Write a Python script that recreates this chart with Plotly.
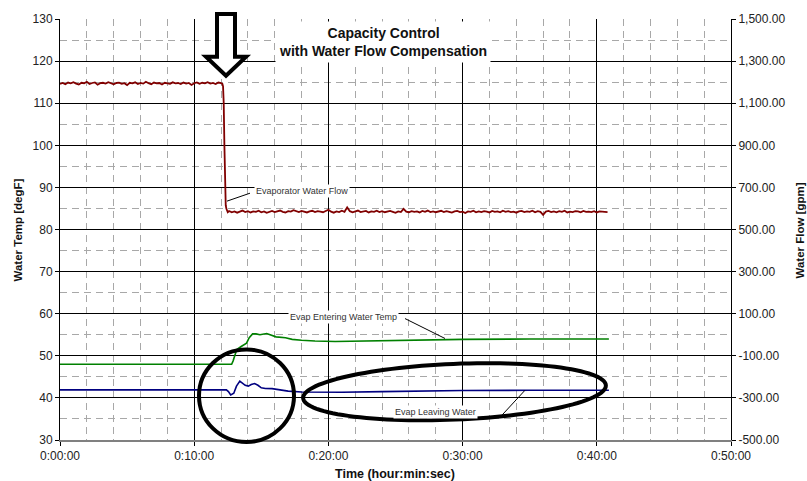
import numpy as np
import plotly.graph_objects as go

# ---------------- data ----------------
# Evaporator water flow [gpm], sampled every 0.2 min before the step
flow_pre = [1192,1196,1190,1198,1194,1200,1193,1189,1197,1195,1202,1191,1196,1199,1188,1195,
            1197,1193,1200,1194,1190,1196,1198,1192,1195,1186,1197,1194,1199,1191,1196,1193,
            1202,1195,1190,1198,1194,1196,1189,1197,1195,1192,1199,1194,1196,1191,1198,1193,
            1196,1187,1195,1199,1192,1197,1194,1200,1193,1196,1191,1198,1195]
# transition (time [min], flow)
flow_step_t = [12.1, 12.15, 12.2, 12.25, 12.3, 12.35, 12.4, 12.5]
flow_step_v = [1192, 1180, 1100, 900, 680, 615, 598, 582]
# after the step, every 0.2 min starting 12.6 min
flow_post = [588,582,586,580,585,590,583,587,581,586,
             584,589,582,586,579,585,588,583,586,590,
             584,581,587,585,592,586,583,588,584,581,
             586,589,583,587,585,582,588,594,585,580,
             586,583,589,584,605,587,582,586,590,583,
             585,588,581,586,584,589,583,587,582,585,
             588,584,579,586,583,598,585,582,587,584,
             586,581,588,584,590,583,586,582,585,589,
             583,587,584,580,586,588,583,585,578,586,
             584,589,582,586,583,587,585,581,588,584,
             586,582,589,584,587,583,585,580,586,588,
             583,586,584,589,582,587,584,570,585,588,
             583,586,582,587,584,589,581,585,583,587,
             586,582,588,584,585,583,587,581,586,584,
             585,583]

# Evap entering water temp [degF]
ent_t = [0, 12.79, 12.9, 13.05, 13.17, 13.5, 13.9, 14.1, 14.35, 14.6, 14.9, 15.4, 15.8,
         16.1, 16.8, 17.3, 18.0, 19.0, 20.5, 23.8, 30.0, 35.0, 40.9]
ent_v = [48.0, 48.0, 48.8, 50.5, 51.5, 52.2, 53.0, 54.3, 55.2, 55.2, 55.0, 55.3, 54.9,
         54.5, 54.3, 53.9, 53.7, 53.5, 53.4, 53.6, 53.9, 54.0, 54.0]

# Evap leaving water temp [degF]
lev_t = [0, 12.4, 12.55, 12.72, 12.95, 13.15, 13.4, 13.6, 13.8, 14.03, 14.25, 14.5, 14.75,
         15.0, 15.3, 15.8, 16.3, 17.0, 18.0, 19.5, 21.0, 24.0, 27.0, 30.0, 35.0, 40.9]
lev_v = [41.9, 41.9, 41.5, 40.7, 41.1, 42.8, 44.0, 43.6, 43.0, 42.8, 43.2, 43.4, 43.0,
         42.4, 42.25, 42.2, 41.9, 41.6, 41.4, 41.3, 41.35, 41.5, 41.65, 41.75, 41.8, 41.8]

x_tickvals = [0, 10, 20, 30, 40, 50]
x_ticktext = ["0:00:00", "0:10:00", "0:20:00", "0:30:00", "0:40:00", "0:50:00"]
y2_tickvals = [1500, 1300, 1100, 900, 700, 500, 300, 100, -100, -300, -500]
y2_ticktext = ["1,500.00", "1,300.00", "1,100.00", "900.00", "700.00", "500.00",
               "300.00", "100.00", "-100.00", "-300.00", "-500.00"]

# ---------------- build ----------------
flow_t = [round(0.2 * i, 2) for i in range(len(flow_pre))] + flow_step_t + \
         [round(12.6 + 0.2 * i, 2) for i in range(len(flow_post))]
flow_v = flow_pre + flow_step_v + flow_post

FONT = "Liberation Sans, Arial, sans-serif"
fig = go.Figure()
fig.add_trace(go.Scatter(x=ent_t, y=ent_v, mode="lines",
                         line=dict(color="#008000", width=1.6), yaxis="y"))
fig.add_trace(go.Scatter(x=lev_t, y=lev_v, mode="lines",
                         line=dict(color="#000080", width=1.6), yaxis="y"))
fig.add_trace(go.Scatter(x=flow_t, y=flow_v, mode="lines",
                         line=dict(color="#800000", width=1.8), yaxis="y2"))

# pixel -> paper helpers (plot area: x 60..731, y 17..440)
PX0, PX1, PY0, PY1 = 60, 731, 17, 440
def px(x):
    return (x - PX0) / (PX1 - PX0)
def py(y):
    return (PY1 - y) / (PY1 - PY0)
def path(points, close=True):
    s = "M " + " L ".join(f"{px(a):.5f},{py(b):.5f}" for a, b in points)
    return s + (" Z" if close else "")

shapes = []
# hollow down arrow
arrow = [(217, 12), (235, 12), (235, 55), (246, 55), (226, 74), (206, 55), (217, 55)]
shapes.append(dict(type="path", xref="paper", yref="paper", path=path(arrow),
                   line=dict(color="black", width=4), fillcolor="white", layer="above"))
# circle
shapes.append(dict(type="circle", xref="paper", yref="paper",
                   x0=px(199), x1=px(294), y0=py(442), y1=py(349),
                   line=dict(color="black", width=4)))
# tilted ellipse
cx, cy, a, b, th = 454.5, 391.5, 151.5, 28.0, np.deg2rad(-2.4)
phi = np.linspace(0, 2 * np.pi, 120, endpoint=False)
ell = [(cx + a * np.cos(p) * np.cos(th) - b * np.sin(p) * np.sin(th),
        cy + a * np.cos(p) * np.sin(th) + b * np.sin(p) * np.cos(th)) for p in phi]
shapes.append(dict(type="path", xref="paper", yref="paper", path=path(ell),
                   line=dict(color="black", width=4)))
# leader lines
for (x0, y0, x1, y1) in [(227, 200, 250, 192), (405, 318, 445, 338), (502, 415, 525, 390)]:
    shapes.append(dict(type="line", xref="paper", yref="paper",
                       x0=px(x0), y0=py(y0), x1=px(x1), y1=py(y1),
                       line=dict(color="black", width=1)))

ann = []
ann.append(dict(xref="paper", yref="paper", x=px(383), y=py(40.5),
                xanchor="center", yanchor="middle",
                text="<b>Capacity Control</b><br><b>with Water Flow Compensation</b>",
                showarrow=False, font=dict(family=FONT, size=14, color="#111"),
                bgcolor="white", borderpad=3))
for txt, x, y in [("Evaporator Water Flow", 254, 190), ("Evap Entering Water Temp", 288, 316),
                  ("Evap Leaving Water", 393, 412)]:
    ann.append(dict(xref="paper", yref="paper", x=px(x), y=py(y), text=txt,
                    xanchor="left", yanchor="middle",
                    showarrow=False, font=dict(family=FONT, size=9, color="#333"),
                    bgcolor="white", borderpad=1))
ann.append(dict(xref="paper", yref="paper", x=px(18), y=py(229.5), text="<b>Water Temp [degF]</b>",
                xanchor="center", yanchor="middle",
                textangle=-90, showarrow=False, font=dict(family=FONT, size=11.5, color="#111")))
ann.append(dict(xref="paper", yref="paper", x=px(800), y=py(229.5), text="<b>Water Flow [gpm]</b>",
                xanchor="center", yanchor="middle",
                textangle=-90, showarrow=False, font=dict(family=FONT, size=11.5, color="#111")))
ann.append(dict(xref="paper", yref="paper", x=px(395), y=py(474), text="<b>Time (hour:min:sec)</b>",
                xanchor="center", yanchor="middle",
                showarrow=False, font=dict(family=FONT, size=12.5, color="#111")))

fig.update_layout(
    width=807, height=481, margin=dict(l=60, r=76, t=17, b=41),
    paper_bgcolor="white", plot_bgcolor="white", showlegend=False,
    font=dict(family=FONT, size=12, color="#222"),
    shapes=shapes, annotations=ann,
    xaxis=dict(range=[0, 50], tickvals=x_tickvals, ticktext=x_ticktext,
               showgrid=True, gridcolor="black", gridwidth=1,
               minor=dict(dtick=2, showgrid=True, gridcolor="#a8a8a8", griddash="7px,5px",
                          gridwidth=1),
               showline=True, linecolor="#808080", linewidth=2,
               ticks="outside", ticklen=4, tickcolor="black", zeroline=False),
    yaxis=dict(range=[30, 130], dtick=10, showgrid=True, gridcolor="black", gridwidth=1,
               minor=dict(dtick=5, showgrid=True, gridcolor="#a8a8a8", griddash="7px,5px",
                          gridwidth=1),
               showline=True, linecolor="black", linewidth=1,
               ticks="outside", ticklen=4, tickcolor="black", zeroline=False),
    yaxis2=dict(range=[-500, 1500], overlaying="y", side="right",
                tickvals=y2_tickvals, ticktext=y2_ticktext, showgrid=False,
                showline=True, linecolor="black", linewidth=1,
                ticks="outside", ticklen=4, tickcolor="black", zeroline=False),
)

fig.write_html("out.html")
